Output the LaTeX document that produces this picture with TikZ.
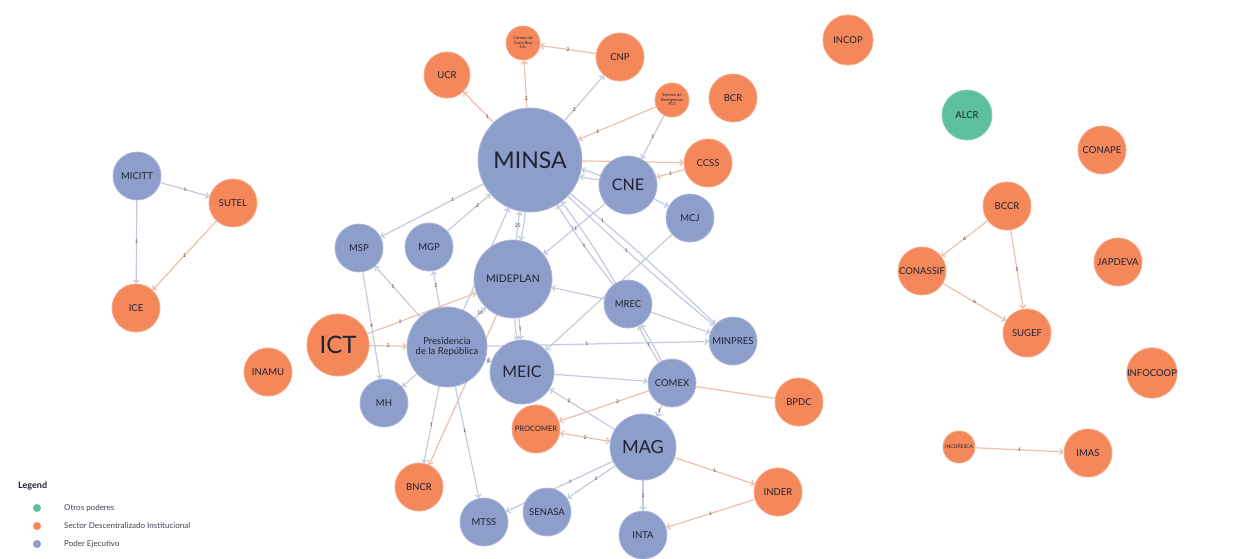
\documentclass[tikz,border=0pt]{standalone}
\usepackage{fontspec}
\setmainfont{Lato}
\usetikzlibrary{arrows.meta}
\pgfdeclarelayer{bg}
\pgfdeclarelayer{edges}
\pgfsetlayers{bg,edges,main}
\definecolor{blu}{HTML}{8E9ECB}
\definecolor{ora}{HTML}{F4885B}
\definecolor{grn}{HTML}{5DBF9B}
\definecolor{eb}{HTML}{C3CBDE}
\definecolor{eor}{HTML}{EDBFAE}
\definecolor{txt}{HTML}{1E2233}
\tikzset{
  nd/.style={circle, inner sep=0pt, text=txt, align=center, font=\fontsize{9.5}{10.5}\selectfont, minimum size=48pt},
  pe/.style={nd, fill=blu, draw=blu!75!white, line width=0.8pt},
  sd/.style={nd, fill=ora, draw=ora!75!white, line width=0.8pt},
  op/.style={nd, fill=grn, draw=grn!75!white, line width=0.8pt},
  ed/.style={draw=eb, line width=1.2pt, -{Straight Barb[length=3pt,width=6pt]}},
  eo/.style={ed, draw=eor},
  lab/.style={font=\fontsize{5}{5}\selectfont, text=txt!85, inner sep=0.5pt},
  legdot/.style={circle, inner sep=0pt, minimum size=8pt},
  legtxt/.style={anchor=west, font=\fontsize{8}{9}\selectfont, text=txt!85, inner sep=0pt}
}
\begin{document}
\begin{tikzpicture}[x=1pt,y=-1pt]
\begin{pgfonlayer}{bg}
\path[fill=white] (0,0) rectangle (1236,558);
\end{pgfonlayer}
\useasboundingbox (0,0) rectangle (1236,558);
% nodes
\node[pe,minimum size=104pt,font=\fontsize{23}{24}\selectfont] (MINSA) at (530,160) {MINSA};
\node[sd,minimum size=46pt] (UCR) at (447,75) {UCR};
\node[sd,minimum size=34pt,font=\fontsize{4}{4.5}\selectfont] (COR) at (523,43) {Correos de\\Costa Rica\\S.A.};
\node[sd] (CNP) at (620,57) {CNP};
\node[sd,minimum size=34pt,font=\fontsize{4}{4.5}\selectfont] (SEM) at (672,100) {Sistema de\\Emergencias\\911};
\node[sd] (BCR) at (733,98) {BCR};
\node[sd] (CCSS) at (708,163) {CCSS};
\node[pe,minimum size=58pt,font=\fontsize{16}{17}\selectfont] (CNE) at (628,185) {CNE};
\node[pe] (MCJ) at (690,218) {MCJ};
\node[sd,minimum size=50pt] (INCOP) at (848,40) {INCOP};
\node[op,minimum size=50pt] (ALCR) at (967,115) {ALCR};
\node[sd] (CONAPE) at (1102,150) {CONAPE};
\node[sd] (BCCR) at (1007,206) {BCCR};
\node[sd] (CONASSIF) at (922,271) {CONASSIF};
\node[sd] (SUGEF) at (1027,333) {SUGEF};
\node[sd] (JAPDEVA) at (1118,262) {JAPDEVA};
\node[sd,minimum size=50pt] (INFOCOOP) at (1152,373) {INFOCOOP};
\node[sd,minimum size=32pt,font=\fontsize{5}{5}\selectfont] (INCOPESCA) at (959,447) {INCOPESCA};
\node[sd] (IMAS) at (1088,453) {IMAS};
\node[pe] (MICITT) at (137,176) {MICITT};
\node[sd] (SUTEL) at (233,203) {SUTEL};
\node[sd] (ICE) at (136,308) {ICE};
\node[sd] (INAMU) at (268,372) {INAMU};
\node[sd,minimum size=62pt,font=\fontsize{24}{25}\selectfont] (ICT) at (338,345) {ICT};
\node[pe] (MSP) at (359,248) {MSP};
\node[pe] (MGP) at (429,247) {MGP};
\node[pe,minimum size=78pt,font=\fontsize{10.5}{11.5}\selectfont] (MIDEPLAN) at (513,279) {MIDEPLAN};
\node[pe,minimum size=80pt,font=\fontsize{9.5}{10.5}\selectfont] (PRES) at (447,347) {Presidencia\\de la República};
\node[pe,minimum size=64pt,font=\fontsize{16}{17}\selectfont] (MEIC) at (522,372) {MEIC};
\node[pe] (MREC) at (628,304) {MREC};
\node[pe] (MINPRES) at (733,341) {MINPRES};
\node[pe] (COMEX) at (672,383) {COMEX};
\node[sd] (BPDC) at (799,402) {BPDC};
\node[pe] (MH) at (384,403) {MH};
\node[sd,font=\fontsize{7.5}{8}\selectfont] (PROCOMER) at (536,429) {PROCOMER};
\node[pe,minimum size=66pt,font=\fontsize{18}{19}\selectfont] (MAG) at (643,447) {MAG};
\node[sd] (BNCR) at (419,487) {BNCR};
\node[pe] (MTSS) at (484,522) {MTSS};
\node[pe] (SENASA) at (547,512) {SENASA};
\node[pe] (INTA) at (643,535) {INTA};
\node[sd] (INDER) at (778,492) {INDER};
% edges
\begin{pgfonlayer}{edges}
\draw[ed] (MICITT) -- node[lab]{1} (SUTEL);
\draw[ed] (MICITT) -- node[lab]{1} (ICE);
\draw[eo] (SUTEL) -- node[lab]{1} (ICE);
\draw[eo] (BCCR) -- node[lab]{6} (CONASSIF);
\draw[eo] (BCCR) -- node[lab]{5} (SUGEF);
\draw[eo] (CONASSIF) -- node[lab]{6} (SUGEF);
\draw[eo] (INCOPESCA) -- node[lab]{1} (IMAS);
\draw[eo] (MINSA) -- node[lab,pos=0.2]{1} (UCR);
\draw[eo] (MINSA) -- node[lab,pos=0.2]{2} (COR);
\draw[eo] (CNP) -- node[lab]{2} (COR);
\draw[ed] (MINSA) -- node[lab,pos=0.25]{2} (CNP);
\draw[eo] (SEM) -- node[lab,pos=0.75]{1} (MINSA);
\draw[ed] (SEM) -- node[lab]{1} (CNE);
\draw[eo] (MINSA) -- (CCSS);
\draw[eo] (CCSS) -- node[lab]{1} (CNE);
\draw[ed] (CNE) to[bend left=4] (MINSA);
\draw[ed] (CNE) to[bend right=4] (MINSA);
\draw[ed] (CNE) -- (MCJ);
\draw[ed] (MINSA) -- node[lab,pos=0.3]{1} (MSP);
\draw[ed] (MGP) -- node[lab,pos=0.7]{2} (MINSA);
\draw[ed] (MIDEPLAN) to[bend left=3] node[lab]{25} (MINSA);
\draw[ed] (MINSA) to[bend left=3] (MIDEPLAN);
\draw[ed] (PRES) -- (MINSA);
\draw[ed] (CNE) -- node[lab]{11} (MIDEPLAN);
\draw[ed] (MREC) to[bend left=3] node[lab]{1} (MINSA);
\draw[ed] (MREC) to[bend right=3] (MINSA);
\draw[ed] (MINSA) to[bend left=2] node[lab,pos=0.2]{1} (MINPRES);
\draw[ed] (MINSA) to[bend right=2] node[lab,pos=0.4]{1} (MINPRES);
\draw[ed] (MREC) -- (MIDEPLAN);
\draw[ed] (MREC) -- (MINPRES);
\draw[ed] (MCJ) -- (MEIC);
\draw[ed] (PRES) -- node[lab,pos=0.45]{1} (MINPRES);
\draw[ed] (COMEX) to[bend left=3] node[lab]{1} (MREC);
\draw[ed] (COMEX) to[bend right=3] (MREC);
\draw[eo] (ICT) -- node[lab]{3} (PRES);
\draw[eo] (ICT) -- node[lab,pos=0.3]{1} (MIDEPLAN);
\draw[ed] (PRES) -- node[lab,pos=0.6]{5} (MSP);
\draw[ed] (PRES) -- node[lab,pos=0.6]{2} (MGP);
\draw[ed] (MSP) -- node[lab]{4} (MH);
\draw[ed] (PRES) -- node[lab]{10} (MIDEPLAN);
\draw[ed] (MIDEPLAN) to[bend left=3] node[lab]{1} (MEIC);
\draw[ed] (MIDEPLAN) to[bend right=3] (MEIC);
\draw[ed] (PRES) -- node[lab]{2} (MEIC);
\draw[ed] (PRES) -- (MH);
\draw[ed] (PRES) -- node[lab]{1} (BNCR);
\draw[eo] (MIDEPLAN) -- (BNCR);
\draw[ed] (PRES) -- node[lab,pos=0.4]{1} (MTSS);
\draw[ed] (MEIC) -- (COMEX);
\draw[eo] (COMEX) -- node[lab,pos=0.35]{2} (PROCOMER);
\draw[ed] (MAG) -- node[lab,pos=0.7]{2} (MEIC);
\draw[eo,{Straight Barb[length=3pt,width=6pt]}-{Straight Barb[length=3pt,width=6pt]}] (PROCOMER) -- node[lab]{2} (MAG);
\draw[ed] (COMEX) -- node[lab]{1} (MAG);
\draw[eo,-] (COMEX) -- (BPDC);
\draw[eo] (MAG) -- node[lab]{1} (INDER);
\draw[eo] (INDER) -- node[lab]{1} (INTA);
\draw[ed] (MAG) -- node[lab]{1} (INTA);
\draw[ed] (MAG) -- node[lab,pos=0.4]{1} (SENASA);
\draw[ed] (MAG) -- node[lab,pos=0.4]{1} (MTSS);
\end{pgfonlayer}
% legend
\node[anchor=west, font=\bfseries\fontsize{9}{10}\selectfont, text=txt, inner sep=0pt] (LEG) at (18,486) {Legend};
\node[legdot, fill=grn] (L1) at (37,508) {};
\node[legtxt] (T1) at (64,508) {Otros poderes};
\node[legdot, fill=ora] (L2) at (37,526) {};
\node[legtxt] (T2) at (64,526) {Sector Descentralizado Institucional};
\node[legdot, fill=blu] (L3) at (37,544) {};
\node[legtxt] (T3) at (64,544) {Poder Ejecutivo};
\end{tikzpicture}
\end{document}
